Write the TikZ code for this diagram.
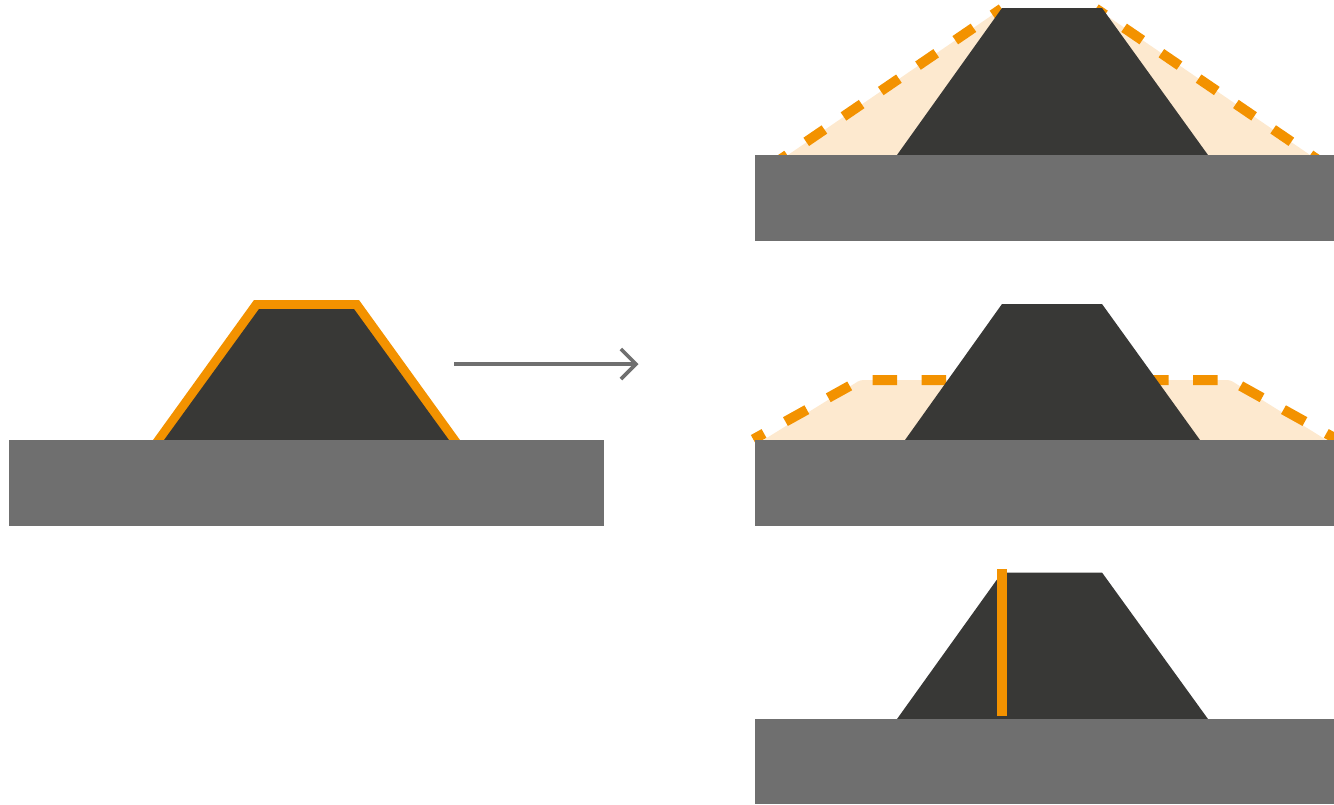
\documentclass[tikz,border=0pt]{standalone}
\usetikzlibrary{arrows.meta}
\definecolor{orangeline}{HTML}{F39200}
\definecolor{darkcore}{HTML}{383836}
\definecolor{greybase}{HTML}{6F6F6F}
\definecolor{beigearea}{HTML}{FDE9CF}
\tikzset{
    basebox/.style={fill=greybase},
    core/.style={fill=darkcore},
    area/.style={fill=beigearea, rounded corners=3pt},
    orangefill/.style={fill=orangeline},
    slopedash/.style={draw=orangeline, line width=10pt, dash pattern=on 22pt off 23.1pt, dash phase=11pt},
    flatdash/.style={draw=orangeline, line width=10pt, dash pattern=on 24.5pt off 24.5pt, dash phase=12.25pt},
    cutline/.style={draw=orangeline, line width=9.7pt},
    arrowline/.style={draw=greybase, line width=3.6pt, -{Straight Barb[length=15pt,width=30pt,line width=3.6pt]}}
}
\begin{document}
\begin{tikzpicture}[x=1pt, y=-1pt]
    \useasboundingbox (0,0) rectangle (1334,804);
    \clip (0,0) rectangle (1334,804);

    %disegno a sinistra
    \fill[orangefill] (152.3,441)--(254,300)--(359,300)--(460.7,441)--cycle;
    \fill[core] (163.3,441)--(259,309)--(354,309)--(449.7,441)--cycle;
    \fill[basebox] (9,439.7) rectangle (604,526);

    %freccia
    \coordinate (arrowstart) at (454,364);
    \coordinate (arrowend) at (638.5,364);
    \draw[arrowline] (arrowstart)--(arrowend);

    %sezione in alto
    \fill[area] (785,157)--(1002.5,8)--(1095.6,8)--(1313,157)--cycle;
    \draw[slopedash] (1001.6,8.6)--(777,161.8);
    \draw[slopedash] (1095.9,8.6)--(1320,161.3);
    \fill[core] (896.3,156)--(1002,8)--(1102,8)--(1208.7,156)--cycle;
    \fill[basebox] (755,154.7) rectangle (1334,241);

    %sezione centrale
    \fill[area] (761.8,441)--(860.3,380)--(1230.1,380)--(1328,441)--cycle;
    \draw[flatdash] (753.3,439.4)--(860.3,380)--(985,380);
    \draw[flatdash] (1337,439.4)--(1230.1,380)--(1107,380);
    \fill[core] (904.3,441)--(1002,304)--(1102,304)--(1200.7,441)--cycle;
    \fill[basebox] (755,439.7) rectangle (1334,526);

    %sezione in basso
    \fill[core] (896.3,720)--(1002,572.5)--(1102,572.5)--(1208.7,720)--cycle;
    \fill[basebox] (755,718.7) rectangle (1334,804);
    \coordinate (cuttop) at (1002.2,569.3);
    \coordinate (cutbottom) at (1002.2,716);
    \draw[cutline] (cuttop)--(cutbottom);
\end{tikzpicture}
\end{document}
